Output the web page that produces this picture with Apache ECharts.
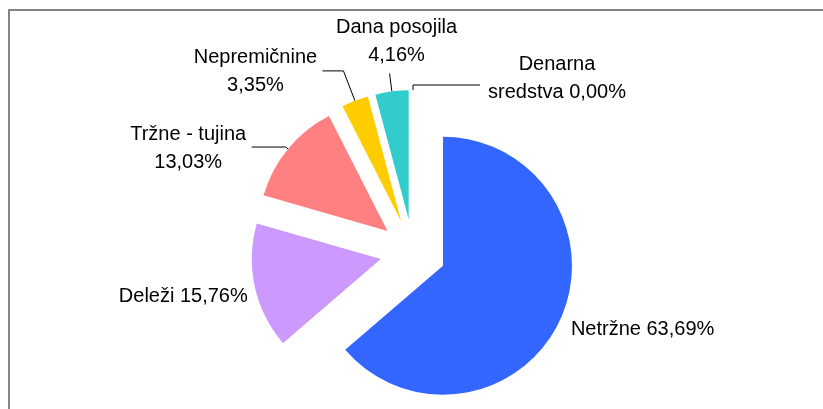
<!DOCTYPE html>
<html>
<head>
<meta charset="utf-8">
<script src="https://cdn.jsdelivr.net/npm/echarts@6/dist/echarts.min.js"></script>
<style>
  html, body { margin:0; padding:0; background:#fff; }
  #chart { width:823px; height:409px; }
  #frame { position:absolute; left:8px; top:9px; width:900px; height:500px;
           border-left:2px solid #858585; border-top:2px solid #858585; pointer-events:none; }
</style>
</head>
<body>
<div id="chart"></div>
<div id="frame"></div>
<script>
const names = ["Netržne", "Deleži", "Tržne - tujina", "Nepremičnine", "Dana posojila", "Denarna sredstva"];
const shares = [63.69, 15.76, 13.03, 3.35, 4.16, 0.00];
// label text lines (the value is appended to the last line)
const labelLines = [["Netržne"], ["Deleži"], ["Tržne - tujina", ""], ["Nepremičnine", ""], ["Dana posojila", ""], ["Denarna", "sredstva"]];

const colors = ["#3366FF", "#CC99FF", "#FF8080", "#FFCC00", "#33CCCC", "#33CCCC"];
// label placement (Excel-like), tuned per slice
const showLine = [false, false, true, true, true, true];
const lineLen  = [20, 2, 3, 32, 18, 5];
const lineLen2 = [-12.5, 0, 34, 21, 0, -67];
const labelPad = [[4,0,0,0], [18,0,0,0], [3,0,0,0], [2,0,0,0], [0,-73,64,0], [0,-152,14,0]];
const blockW   = [null, null, 117, 124, 122, 140];

const FONT = "Liberation Sans, Arial, sans-serif";
function fmt(v){ return v.toFixed(2).replace(".", ",") + "%"; }

const data = names.map((n, i) => {
  const rich = { c: { fontFamily: FONT, fontSize: 20, lineHeight: 28, color: "#000", align: "center" } };
  if (blockW[i]) rich.c.width = blockW[i];
  return {
    name: n,
    value: shares[i],
    selected: true,
    itemStyle: { color: colors[i] },
    label: { padding: labelPad[i], rich: rich },
    labelLine: { show: showLine[i], length: lineLen[i], length2: lineLen2[i] }
  };
});

const chart = echarts.init(document.getElementById("chart"));
chart.setOption({
  animation: false,
  series: [{
    type: "pie",
    center: [413, 252],
    radius: [0, 129],
    startAngle: 90,
    clockwise: true,
    selectedMode: "multiple",
    selectedOffset: 33,
    avoidLabelOverlap: false,
    data: data,
    emphasis: { disabled: true },
    label: {
      show: true,
      position: "outside",
      alignTo: "none",
      color: "#000",
      fontFamily: FONT,
      fontSize: 20,
      lineHeight: 28,
      formatter: p => {
        const ls = labelLines[p.dataIndex].slice();
        const last = ls.length - 1;
        ls[last] = (ls[last] ? ls[last] + " " : "") + fmt(p.value);
        return ls.map(s => "{c|" + s + "}").join("\n");
      }
    },
    labelLine: {
      lineStyle: { color: "#000", width: 1 }
    }
  }]
});
</script>
</body>
</html>
